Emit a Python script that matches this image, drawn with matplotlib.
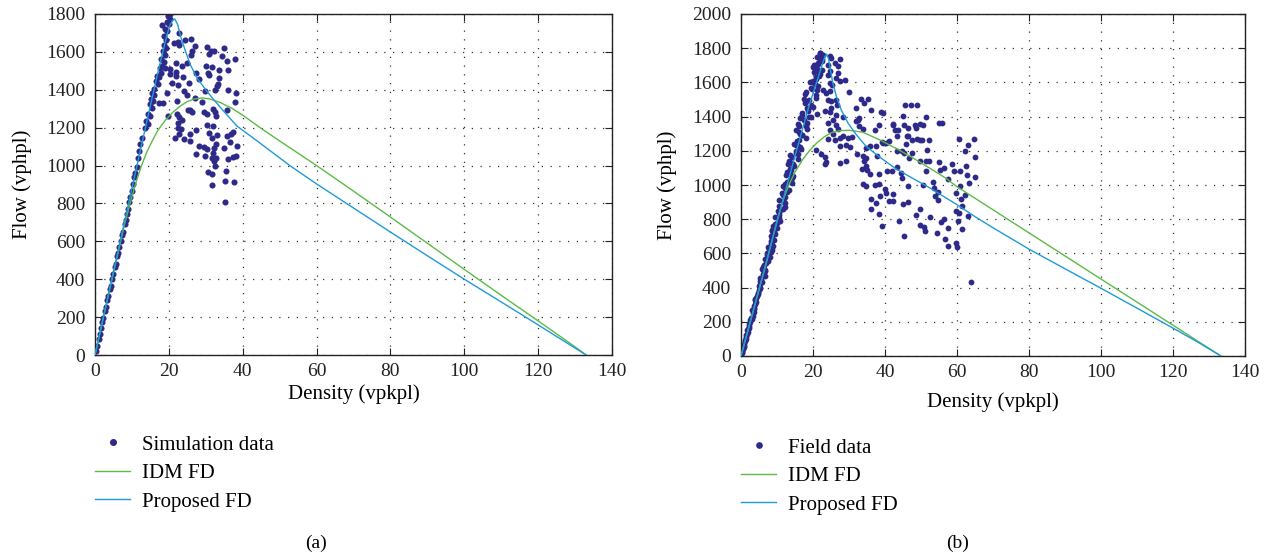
import matplotlib
matplotlib.use("Agg")
import matplotlib.pyplot as plt

# ---------------- data ----------------
# Panel (a): simulation data (density vpkpl, flow vphpl)
sim_pts = [
    (0.3, 20), (0.6, 50), (1.0, 85), (1.3, 110), (1.6, 140), (2.0, 175), (2.3, 195), (2.6, 230),
    (3.0, 255), (3.3, 290), (3.6, 310), (4.0, 350), (4.3, 365), (4.6, 400), (5.0, 430), (5.3, 462),
    (5.6, 478), (6.0, 520), (6.3, 540), (6.6, 570), (7.0, 600), (7.3, 632), (7.6, 648), (8.0, 692),
    (8.3, 712), (8.6, 745), (9.0, 772), (9.3, 805), (9.6, 832), (10.0, 867), (10.3, 902), (10.65, 937),
    (10.9, 963), (11.4, 995), (11.6, 1042), (11.9, 1077), (12.3, 1112), (12.7, 1147), (13.6, 1196),
    (14.3, 1218), (13.9, 1235), (15.0, 1261), (14.4, 1270), (15.4, 1305), (15.0, 1323), (15.7, 1340),
    (15.2, 1349), (16.1, 1375), (15.4, 1384), (15.9, 1402), (17.1, 1428), (16.4, 1446), (17.4, 1467),
    (16.7, 1472), (17.9, 1489), (19.0, 1516), (17.7, 1516), (18.2, 1525), (18.8, 1547), (17.96, 1560),
    (18.95, 1586), (18.5, 1604), (19.1, 1621), (18.7, 1639), (19.1, 1665), (18.8, 1682), (19.4, 1709),
    (19.0, 1723), (18.2, 1740), (20.0, 1745), (19.6, 1760), (20.4, 1775), (19.8, 1790), (20.2, 1800),
    (22.7, 1702), (22.6, 1653), (24.4, 1665), (25.9, 1667), (27.1, 1630), (26.3, 1604), (26.0, 1586),
    (22.7, 1639), (21.5, 1647), (30.2, 1625), (31.4, 1607), (32.2, 1604), (30.96, 1591), (34.8, 1618),
    (34.5, 1579), (37.9, 1565), (35.7, 1551), (24.9, 1542), (23.6, 1525), (21.9, 1542), (20.2, 1512),
    (21.8, 1495), (20.4, 1481), (23.8, 1467), (22.0, 1472), (20.9, 1435), (22.4, 1425), (25.5, 1437),
    (27.3, 1489), (29.96, 1523), (31.6, 1521), (30.5, 1486), (31.0, 1477), (33.5, 1505), (35.9, 1502),
    (33.5, 1463), (33.3, 1432), (33.0, 1419), (28.2, 1458), (29.8, 1393), (32.6, 1400), (36.1, 1400),
    (38.3, 1382), (24.1, 1393), (24.9, 1375), (22.1, 1340), (19.5, 1384), (18.3, 1328), (17.2, 1328),
    (19.8, 1261), (22.1, 1274), (22.8, 1258), (25.1, 1291), (25.8, 1291), (26.4, 1284), (27.2, 1358),
    (29.1, 1337), (29.6, 1284), (30.3, 1270), (31.95, 1300), (32.6, 1284), (32.8, 1261), (35.7, 1291),
    (37.9, 1337), (22.4, 1225), (23.6, 1239), (22.6, 1196), (22.7, 1165), (23.3, 1191), (21.7, 1147),
    (24.0, 1139), (25.8, 1165), (27.4, 1186), (30.3, 1212), (31.95, 1209), (30.9, 1174), (31.8, 1147),
    (33.1, 1161), (35.8, 1156), (36.8, 1165), (37.5, 1175), (36.5, 1125), (38.5, 1103), (25.8, 1130),
    (28.2, 1103), (27.3, 1063), (29.6, 1098), (30.3, 1086), (32.1, 1095), (32.9, 1116), (34.8, 1095),
    (31.9, 1068), (29.7, 1051), (31.6, 1042), (32.2, 1025), (32.9, 1039), (32.5, 998), (35.9, 1033),
    (37.5, 1046), (38.3, 1051), (30.5, 968), (31.7, 958), (35.4, 972), (37.7, 914), (35.3, 916),
    (31.7, 898), (35.3, 809),
]
sim_density = [p[0] for p in sim_pts]
sim_flow = [p[1] for p in sim_pts]

# Panel (a): model curves
idm_a_density = [0, 3, 6, 8, 9.5, 11, 12.5, 14, 15.5, 17, 19, 21, 23, 25, 27, 29, 31, 34, 37, 40,
                 45, 50, 55, 60, 70, 80, 90, 100, 110, 120, 126, 130, 133]
idm_a_flow = [0, 262, 520, 690, 800, 905, 995, 1070, 1130, 1185, 1238, 1280, 1313, 1338, 1352, 1357,
              1352, 1332, 1303, 1266, 1196, 1130, 1065, 1000, 865, 728, 590, 452, 315, 180, 98, 43, 0]
prop_a_density = [0, 5, 10, 14, 17, 18.5, 19.5, 20.3, 21.0, 21.6, 22.4, 23.3, 24.5, 25.8, 27.6, 29.9,
                  32.1, 34.8, 38.4, 43.9, 52.9, 60, 70, 80, 90, 100, 110, 120, 133]
prop_a_flow = [0, 440, 880, 1230, 1490, 1610, 1690, 1740, 1766, 1774, 1744, 1674, 1604, 1533, 1463, 1402,
               1349, 1288, 1209, 1130, 998, 903, 776, 649, 524, 400, 280, 159, 0]

# Panel (b): field data -- dense free-flow band
field_band_flow = [15, 40, 60, 85, 110, 130, 150, 175, 200, 225, 250, 270, 290, 315, 340, 360, 385, 410,
                   430, 455, 480, 500, 520, 545, 570, 590, 610, 635, 660, 680, 700, 725, 750, 770, 790,
                   815, 840, 860, 880, 905, 930, 950, 970, 995, 1020, 1040, 1060, 1085, 1110, 1130,
                   1150, 1175, 1200, 1220, 1240, 1265, 1290, 1310, 1330, 1355, 1380, 1400, 1420, 1445,
                   1470, 1490, 1510, 1535, 1560, 1580, 1600, 1620, 1640, 1660, 1680, 1700, 1715, 1730,
                   1745, 1760, 1770,
                   25, 70, 120, 165, 210, 260, 305, 350, 395, 440, 490, 535, 580, 625, 670, 715, 760,
                   805, 850, 895, 940, 985, 1030, 1075, 1120, 1165, 1210, 1255, 1300, 1345, 1390, 1435,
                   1480, 1525, 1570, 1610, 1650, 1690, 1725, 1750,
                   30, 55, 95, 140, 185, 235, 280, 325, 370, 420, 465, 510, 555, 600, 645, 690, 735,
                   780, 825, 870, 915, 960, 1005, 1050, 1095, 1140, 1185, 1230, 1275, 1320, 1365, 1410,
                   1455, 1500, 1545, 1590, 1630, 1670, 1705, 1740, 1765,
                   45, 100, 155, 215, 275, 335, 395, 450, 505, 565, 620, 675, 730, 790, 845, 900, 955,
                   1010, 1065, 1125, 1180, 1235, 1290, 1345, 1400, 1450, 1505, 1555, 1605, 1655, 1700,
                   1735]
field_band_density = [0.2, 0.49, 0.83, 0.99, 1.39, 1.76, 1.79, 2.24, 2.63, 2.74, 3.47, 3.14, 3.67, 4.26,
                      4.05, 4.62, 5.07, 5.0, 5.97, 5.29, 6.08, 6.76, 6.19, 6.99, 7.5, 7.2, 8.47, 7.38,
                      8.35, 9.19, 8.33, 9.29, 9.87, 9.39, 10.97, 9.48, 10.63, 11.62, 10.48, 11.6, 12.24,
                      11.59, 13.47, 11.57, 12.91, 14.05, 12.62, 13.91, 14.61, 13.78, 15.97, 13.66, 15.19,
                      16.49, 14.76, 16.22, 16.97, 15.98, 18.47, 15.76, 17.47, 18.92, 16.9, 18.53, 19.34,
                      18.17, 20.97, 17.85, 19.75, 21.35, 19.05, 20.77, 21.58, 20.24, 21.0, 20.73, 21.44,
                      21.9, 21.81, 22.0, 21.85,
                      0.31, 0.93, 1.41, 2.14, 2.53, 3.56, 3.77, 4.38, 5.27, 5.18, 6.36, 6.45, 7.95, 7.72,
                      8.38, 9.53, 8.94, 10.45, 10.24, 12.26, 11.6, 12.31, 13.73, 12.65, 14.55, 14.04,
                      16.58, 15.49, 16.25, 17.93, 16.35, 18.64, 17.83, 20.89, 19.38, 20.13, 22.0, 19.88,
                      22.4, 21.08,
                      0.38, 0.77, 1.09, 1.87, 2.23, 3.22, 3.5, 3.82, 4.81, 5.38, 6.55, 5.86, 7.4, 7.23,
                      8.84, 8.63, 8.65, 10.13, 10.58, 12.25, 10.52, 12.8, 12.11, 14.38, 13.69, 13.41,
                      15.39, 15.77, 17.96, 15.17, 18.2, 16.99, 19.93, 18.75, 18.18, 20.65, 20.9, 22.57,
                      21.31, 22.31, 22.34,
                      0.56, 1.32, 1.85, 2.99, 3.48, 3.9, 5.34, 5.56, 6.64, 6.73, 8.61, 8.54, 8.49, 10.68,
                      10.43, 11.84, 11.37, 14.03, 13.48, 13.08, 15.95, 15.25, 16.97, 16.01, 19.44, 18.35,
                      17.5, 21.01, 19.81, 21.78, 20.24, 22.53]

# Panel (b): field data -- congested scatter
field_pts = [
    (22.0, 1771), (22.9, 1761), (24.6, 1755), (25.1, 1742), (27.4, 1736), (26.0, 1713), (24.2, 1703),
    (26.9, 1697), (24.6, 1664), (24.2, 1645), (26.9, 1654), (26.3, 1625), (27.4, 1606), (28.8, 1612),
    (24.6, 1596), (25.3, 1586), (22.9, 1557), (23.7, 1538), (24.6, 1548), (29.9, 1542), (24.2, 1499),
    (25.1, 1489), (26.3, 1495), (26.7, 1470), (25.1, 1450), (23.2, 1431), (24.6, 1425), (26.5, 1412),
    (21.1, 1417), (28.3, 1398), (25.5, 1383), (24.2, 1363), (26.3, 1348), (24.6, 1324), (26.9, 1328),
    (25.5, 1301), (24.2, 1270), (26.0, 1266), (27.4, 1276), (28.3, 1285), (29.7, 1276), (30.8, 1282),
    (29.2, 1231), (27.4, 1227), (30.3, 1223), (20.7, 1204), (22.3, 1179), (23.2, 1165), (23.7, 1134),
    (23.2, 1120), (27.4, 1130), (29.2, 1138), (32.0, 1450), (32.4, 1383), (32.9, 1392), (32.0, 1373),
    (33.4, 1503), (35.2, 1503), (34.3, 1480), (36.1, 1437), (32.7, 1344), (33.8, 1328), (37.3, 1320),
    (34.7, 1217), (35.7, 1227), (37.5, 1227), (32.2, 1179), (33.8, 1169), (34.7, 1159), (34.3, 1140),
    (33.6, 1091), (34.9, 1087), (34.6, 1111), (37.7, 1169), (35.7, 1062), (33.8, 1004), (34.7, 994),
    (37.1, 1000), (36.1, 920), (37.5, 897), (36.1, 858), (39.0, 1425), (39.4, 1421), (38.2, 1348),
    (39.5, 1247),
    (42.2, 1357), (48.4, 1352), (49.7, 1357), (50.5, 1348), (55.1, 1361), (46.5, 1334), (43.6, 1322),
    (43.3, 1289), (46.1, 1289), (48.9, 1270), (49.8, 1262), (39.1, 1251), (40.4, 1247), (41.1, 1255),
    (45.8, 1241), (51.6, 1202), (43.2, 1196), (44.7, 1196), (45.3, 1185), (47.5, 1187), (46.7, 1157),
    (49.8, 1138), (51.4, 1142), (52.1, 1142), (55.0, 1134), (43.2, 1105), (40.6, 1084), (42.0, 1080),
    (44.5, 1070), (51.4, 1080), (55.3, 1086), (56.3, 1101), (57.4, 1037), (53.4, 1018), (44.8, 1041),
    (38.4, 1008), (46.5, 992), (50.5, 998), (53.6, 985), (40.0, 979), (40.4, 955), (42.2, 948),
    (54.6, 959), (53.8, 936), (38.5, 934), (41.0, 909), (42.3, 909), (46.4, 901), (45.0, 886),
    (54.8, 913), (49.7, 858), (48.7, 827), (52.5, 810), (56.4, 804), (55.5, 783), (43.8, 788),
    (39.1, 761), (49.7, 769), (50.8, 755), (51.2, 730), (54.5, 722), (57.4, 746), (56.7, 687),
    (57.5, 645), (45.2, 703), (38.2, 833), (38.2, 1066),
    (45.6, 1470), (47.2, 1470), (49.0, 1470), (45.1, 1402), (45.4, 1353), (46.3, 1285), (48.6, 1334),
    (47.5, 1266), (42.1, 1353), (42.8, 1324), (51.5, 1398), (52.1, 1266), (55.7, 1363), (50.4, 1266),
    (60.5, 1270), (64.6, 1268), (63.0, 1231), (62.3, 1198), (65.1, 1163), (58.6, 1124), (62.5, 1111),
    (59.3, 1080), (60.9, 1080), (62.8, 1056), (65.0, 1047), (63.3, 1014), (60.7, 992), (59.7, 955),
    (62.3, 940), (61.1, 921), (61.5, 876), (59.7, 847), (60.5, 837), (63.0, 820), (60.2, 788),
    (61.4, 740), (59.7, 660), (60.1, 637), (64.0, 435),
]
field_density = field_band_density + [p[0] for p in field_pts]
field_flow = field_band_flow + [p[1] for p in field_pts]

# Panel (b): model curves
idm_b_density = [0, 4, 7, 10, 12, 13.5, 15, 17, 19, 21, 23, 25, 27.5, 30, 33.8, 38.4, 43, 47.6, 52.3,
                 56.9, 60, 70, 80, 90, 100, 110, 120, 127, 133.3]
idm_b_flow = [0, 310, 540, 790, 930, 1010, 1075, 1145, 1200, 1245, 1280, 1305, 1318, 1320, 1309, 1265,
              1215, 1160, 1100, 1040, 990, 855, 720, 585, 450, 315, 180, 85, 0]
prop_b_density = [0, 5, 10, 15, 19, 21, 22.5, 23.3, 23.8, 24.3, 24.7, 25.5, 26.5, 27.8, 29.7, 32,
                  34.7, 38.4, 43, 47.6, 52.3, 56.9, 60, 65, 70, 80, 90, 100, 110, 120, 127, 133.3]
prop_b_flow = [0, 390, 785, 1170, 1470, 1600, 1700, 1750, 1765, 1740, 1693, 1596, 1518, 1441,
               1363, 1295, 1227, 1165, 1095, 1040, 985, 925, 885, 815, 750, 625, 510, 396, 280, 163, 80, 0]

x_ticks = [0, 20, 40, 60, 80, 100, 120, 140]
y_ticks_a = [0, 200, 400, 600, 800, 1000, 1200, 1400, 1600, 1800]
y_ticks_b = [0, 200, 400, 600, 800, 1000, 1200, 1400, 1600, 1800, 2000]

# ---------------- style ----------------
plt.rcParams['font.family'] = ['Liberation Serif', 'DejaVu Serif']
FS = 14
LFS = 15
DOT = '#2e2a8a'
GREEN = '#5cba47'
BLUE = '#1f9ad8'

W, H = 1282, 557
fig = plt.figure(figsize=(W / 100, H / 100), dpi=100)


def make_axes(l, r, t, b):
    return fig.add_axes([l / W, 1 - b / H, (r - l) / W, (b - t) / H])


def style(ax, yticks, ymax, xlabelpad, ylabelpad):
    ax.set_xlim(0, 140)
    ax.set_ylim(0, ymax)
    ax.set_xticks(x_ticks)
    ax.set_yticks(yticks)
    ax.tick_params(direction='in', top=True, right=True, length=5, width=0.8,
                   labelsize=FS, colors='#222222')
    ax.tick_params(axis='x', pad=6)
    ax.tick_params(axis='y', pad=7)
    ax.grid(True, linestyle=(0, (1, 6)), linewidth=0.9, color='#333333')
    for s in ax.spines.values():
        s.set_linewidth(1.0)
        s.set_color('#222222')
    ax.set_xlabel('Density (vpkpl)', fontsize=LFS, labelpad=xlabelpad)
    ax.set_ylabel('Flow (vphpl)', fontsize=LFS, labelpad=ylabelpad)


# Panel (a)
ax1 = make_axes(95, 612, 14, 355)
ax1.plot(sim_density, sim_flow, linestyle='none', marker='o', markersize=4.4,
         color=DOT, markeredgewidth=0, label='Simulation data', zorder=2)
ax1.plot(idm_a_density, idm_a_flow, color=GREEN, lw=1.0, label='IDM FD', zorder=3)
ax1.plot(prop_a_density, prop_a_flow, color=BLUE, lw=1.0, label='Proposed FD', zorder=4)
style(ax1, y_ticks_a, 1800, 3, 10)

# Panel (b)
ax2 = make_axes(741, 1245, 14, 356)
ax2.plot(field_density, field_flow, linestyle='none', marker='o', markersize=4.2,
         color=DOT, markeredgewidth=0, label='Field data', zorder=2)
ax2.plot(idm_b_density, idm_b_flow, color=GREEN, lw=1.0, label='IDM FD', zorder=3)
ax2.plot(prop_b_density, prop_b_flow, color=BLUE, lw=1.0, label='Proposed FD', zorder=4)
style(ax2, y_ticks_b, 2000, 8, 11)


def add_legend(ax, x_px, y_px):
    h, l = ax.get_legend_handles_labels()
    ax.legend(h, l, loc='upper left', bbox_to_anchor=(x_px / W, 1 - y_px / H),
              bbox_transform=fig.transFigure, frameon=False, fontsize=LFS,
              handlelength=1.7, handletextpad=0.55, labelspacing=0.43, borderpad=0,
              borderaxespad=0, markerscale=1.15)


add_legend(ax1, 95, 435)
add_legend(ax2, 741, 438)

fig.text(316 / W, 1 - 543 / H, '(a)', ha='center', va='center', fontsize=FS)
fig.text(958 / W, 1 - 543 / H, '(b)', ha='center', va='center', fontsize=FS)

fig.savefig('out.png', dpi=100)
